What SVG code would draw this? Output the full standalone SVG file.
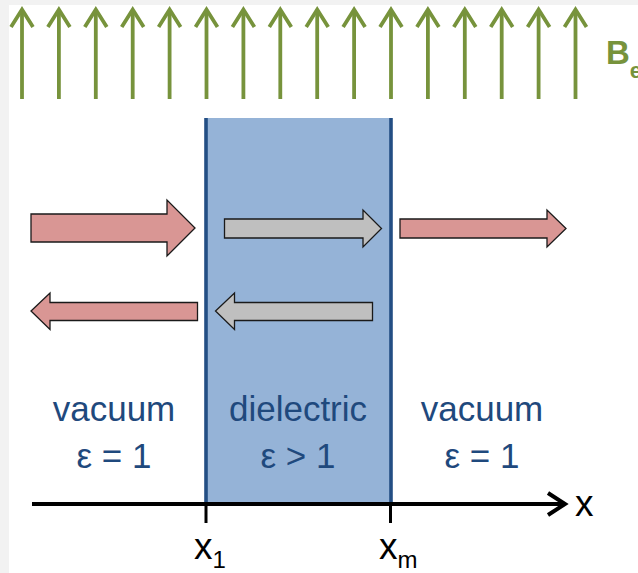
<svg xmlns="http://www.w3.org/2000/svg" width="638" height="573" viewBox="0 0 638 573">
  <style>
    .field { stroke: #77933C; stroke-width: 3.8; fill: none; stroke-linecap: butt; stroke-linejoin: miter; }
    .red { fill: #D99694; stroke: #1a1a1a; stroke-width: 1.3; stroke-linejoin: miter; }
    .grey { fill: #BFBFBF; stroke: #1a1a1a; stroke-width: 1.3; stroke-linejoin: miter; }
    .lbl { font-family: "Liberation Sans", Arial, sans-serif; font-size: 35px; fill: #1F497D; text-anchor: middle; }
    .ax { font-family: "Liberation Sans", Arial, sans-serif; fill: #000; }
    .axis { stroke: #000; stroke-width: 4; fill: none; }
    .tick { stroke: #000; stroke-width: 3; }
  </style>
  <defs>
    <g id="fieldArrow">
      <line class="field" x1="0" y1="99" x2="0" y2="11"/>
      <polyline class="field" points="-11,27 0,9.5 11,27"/>
    </g>
  </defs>
  <rect x="0" y="0" width="638" height="573" fill="#F2F2F2"/>
  <rect x="9" y="5" width="629" height="568" fill="#FFFFFF"/>

  <g id="field">
    <use href="#fieldArrow" x="22" y="0"/>
    <use href="#fieldArrow" x="58.9" y="0"/>
    <use href="#fieldArrow" x="95.8" y="0"/>
    <use href="#fieldArrow" x="132.7" y="0"/>
    <use href="#fieldArrow" x="169.6" y="0"/>
    <use href="#fieldArrow" x="206.5" y="0"/>
    <use href="#fieldArrow" x="243.4" y="0"/>
    <use href="#fieldArrow" x="280.3" y="0"/>
    <use href="#fieldArrow" x="317.2" y="0"/>
    <use href="#fieldArrow" x="354.1" y="0"/>
    <use href="#fieldArrow" x="391" y="0"/>
    <use href="#fieldArrow" x="427.9" y="0"/>
    <use href="#fieldArrow" x="464.8" y="0"/>
    <use href="#fieldArrow" x="501.7" y="0"/>
    <use href="#fieldArrow" x="538.6" y="0"/>
    <use href="#fieldArrow" x="575.5" y="0"/>
    <text x="606" y="64" font-family="Liberation Sans, Arial, sans-serif" font-weight="bold" font-size="33" fill="#77933C">B<tspan font-size="22" dy="14">e</tspan></text>
  </g>

  <g id="dielectric">
    <rect x="206" y="118" width="185" height="386" fill="#95B3D7"/>
    <line x1="206" y1="118" x2="206" y2="504" stroke="#234E84" stroke-width="3.6"/>
    <line x1="391" y1="118" x2="391" y2="504" stroke="#234E84" stroke-width="3.6"/>
  </g>

  <g id="waves">
    <polygon id="incident" class="red" points="31,214 167,214 167,200 195,228 167,256 167,242 31,242"/>
    <polygon id="inside-forward" class="grey" points="224.5,219 363,219 363,210 381.5,228.5 363,247 363,238 224.5,238"/>
    <polygon id="transmitted" class="red" points="400,219 547,219 547,210 566,228.5 547,247 547,238 400,238"/>
    <polygon id="reflected" class="red" points="197.5,302.5 197.5,320.5 50,320.5 50,329.5 31,311 50,293 50,302.5"/>
    <polygon id="inside-backward" class="grey" points="372.5,302.5 372.5,320.5 234.5,320.5 234.5,329.5 215.5,311 234.5,293 234.5,302.5"/>
  </g>

  <g id="region-left">
    <text class="lbl" x="114" y="421">vacuum</text>
    <text class="lbl" x="114" y="468">ε = 1</text>
  </g>
  <g id="region-middle">
    <text class="lbl" x="298" y="421">dielectric</text>
    <text class="lbl" x="298" y="468">ε &gt; 1</text>
  </g>
  <g id="region-right">
    <text class="lbl" x="482" y="421">vacuum</text>
    <text class="lbl" x="482" y="468">ε = 1</text>
  </g>

  <g id="axis">
    <line class="axis" x1="32" y1="504" x2="564" y2="504"/>
    <polyline class="axis" points="548,493 565,504 548,515"/>
    <line class="tick" x1="206" y1="504" x2="206" y2="523"/>
    <line class="tick" x1="390.5" y1="504" x2="390.5" y2="523"/>
    <text class="ax" x="575" y="516" font-size="37">x</text>
    <text class="ax" x="194" y="559" font-size="37">x<tspan font-size="24" dy="9">1</tspan></text>
    <text class="ax" x="379" y="559" font-size="37">x<tspan font-size="24" dy="9">m</tspan></text>
  </g>
</svg>
